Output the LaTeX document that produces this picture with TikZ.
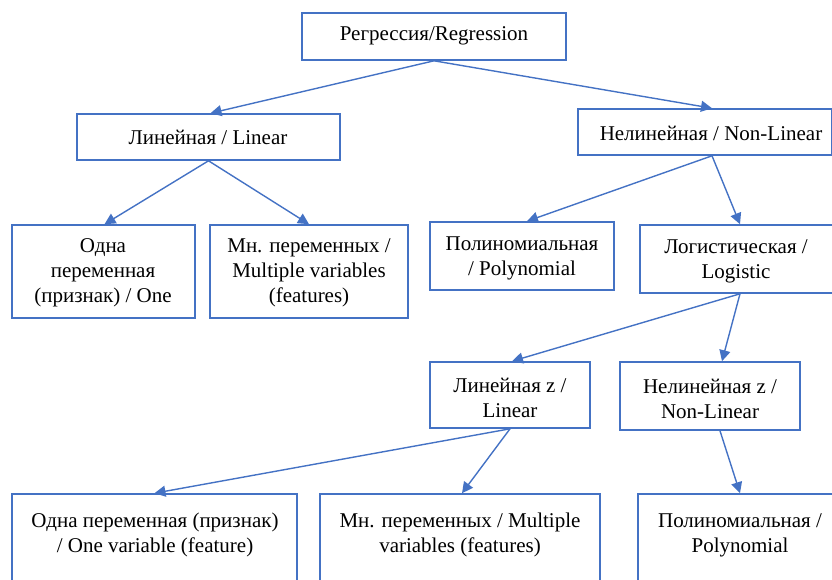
\documentclass[tikz,border=0pt]{standalone}
\usepackage{fontspec}
\setmainfont{Liberation Serif}
\usetikzlibrary{arrows.meta}
\definecolor{boxblue}{HTML}{4472C4}
\begin{document}
\begin{tikzpicture}[x=1pt,y=-1pt,
  box/.style={draw=boxblue,line width=1.6pt,fill=white,inner sep=0pt},
  lbl/.style={font=\fontsize{21}{25}\selectfont,align=center,inner sep=0pt},
  link/.style={draw=boxblue,line width=1.4pt,-{Triangle[width=11pt,length=11pt]}}]
\useasboundingbox (0,0) rectangle (832,579);
\clip (0,0) rectangle (832,579);
% boxes
\node[box,minimum width=264pt,minimum height=47pt] (reg) at (434,36.5) {};
\node[box,minimum width=263pt,minimum height=46pt] (lin) at (208.5,137) {};
\node[box,minimum width=254pt,minimum height=46pt] (nonlin) at (705,132) {};
\node[box,minimum width=183pt,minimum height=93pt] (one) at (103.5,271.5) {};
\node[box,minimum width=198pt,minimum height=93pt] (mult) at (309,271.5) {};
\node[box,minimum width=184pt,minimum height=68pt] (poly) at (522,256) {};
\node[box,minimum width=196pt,minimum height=68pt] (logit) at (738,259) {};
\node[box,minimum width=160pt,minimum height=66pt] (linz) at (510,395) {};
\node[box,minimum width=180pt,minimum height=68pt] (nonlinz) at (710,396) {};
\node[box,minimum width=285pt,minimum height=120pt] (oneb) at (154.5,554) {};
\node[box,minimum width=280pt,minimum height=120pt] (multb) at (460,554) {};
\node[box,minimum width=200pt,minimum height=120pt] (polyb) at (738,554) {};
% labels
\node[lbl] (treg) at (434,36) {Регрессия/Regression};
\node[lbl] (tlin) at (208,137) {Линейная / Linear};
\node[lbl] (tnonlin) at (711,133) {Нелинейная / Non-Linear};
\node[lbl] (tone) at (103,273) {Одна\\переменная\\(признак) / One};
\node[lbl] (tmult) at (309,273) {Мн. переменных /\\Multiple variables\\(features)};
\node[lbl] (tpoly) at (522,258) {Полиномиальная\\/ Polynomial};
\node[lbl] (tlogit) at (736,261) {Логистическая /\\Logistic};
\node[lbl] (tlinz) at (510,398) {Линейная z /\\Linear};
\node[lbl] (tnonlinz) at (710,399) {Нелинейная z /\\Non-Linear};
\node[lbl] (toneb) at (155,535) {Одна переменная (признак)\\/ One variable (feature)};
\node[lbl] (tmultb) at (460,535) {Мн. переменных / Multiple\\variables (features)};
\node[lbl] (tpolyb) at (740,535) {Полиномиальная /\\Polynomial};
% connectors
\draw[link] (reg.south) -- ([xshift=2pt]lin.north);
\draw[link] (reg.south) -- ([xshift=7pt]nonlin.north);
\draw[link] (lin.south) -- ([xshift=1pt]one.north);
\draw[link] (lin.south) -- (mult.north);
\draw[link] ([xshift=7pt]nonlin.south) -- ([xshift=5pt]poly.north);
\draw[link] ([xshift=7pt]nonlin.south) -- ([xshift=2pt]logit.north);
\draw[link] ([xshift=2pt]logit.south) -- ([xshift=2pt]linz.north);
\draw[link] ([xshift=2pt]logit.south) -- ([xshift=12pt]nonlinz.north);
\draw[link] (linz.south) -- (oneb.north);
\draw[link] (linz.south) -- ([xshift=2pt]multb.north);
\draw[link] ([xshift=10pt]nonlinz.south) -- ([xshift=2pt]polyb.north);
\end{tikzpicture}
\end{document}
